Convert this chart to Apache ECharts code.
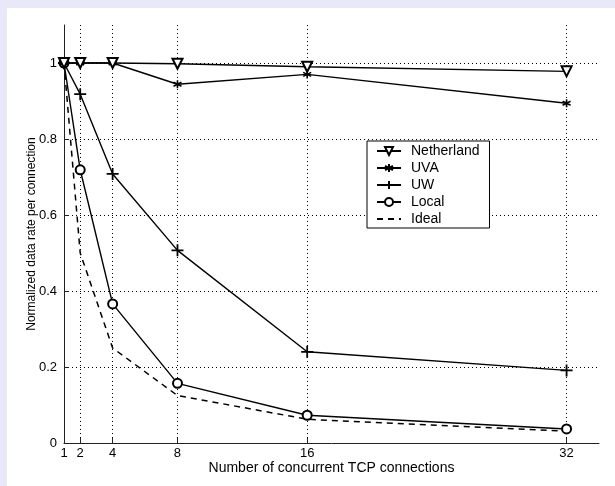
<!DOCTYPE html>
<html>
<head>
<meta charset="utf-8">
<script src="https://cdn.jsdelivr.net/npm/echarts@6/dist/echarts.min.js"></script>
<style>
  html, body { margin: 0; padding: 0; background: #e8e8f8; }
  #main { position: absolute; left: 7px; top: 8px; width: 608px; height: 478px; background: #fff; }
</style>
</head>
<body>
<div id="main"></div>
<script>
// values
var connections = [1, 2, 4, 8, 16, 32];
var netherland = [1, 1, 1, 0.998, 0.99, 0.978];
var uva = [1, 1, 1, 0.944, 0.97, 0.894];
var uw = [1, 0.918, 0.708, 0.507, 0.24, 0.191];
var local = [1, 0.719, 0.366, 0.157, 0.073, 0.037];
var ideal = [1, 0.5, 0.25, 0.125, 0.0625, 0.031];
var xTicks = [1, 2, 4, 8, 16, 32];
var yTicks = [0, 0.2, 0.4, 0.6, 0.8, 1];

function pairs(values) {
	return connections.map(function (c, i) { return [c, values[i]]; });
}

var FONT = 'Liberation Sans';
var plusPath = 'path://M0,5L10,5M5,0L5,10';
var starPath = 'path://M5,0L5,10M0.7,2.5L9.3,7.5M0.7,7.5L9.3,2.5';

var myChart = echarts.init(document.getElementById('main'));

function lineSeries(name, values, extra) {
	var s = {
		name: name,
		type: 'line',
		data: pairs(values),
		clip: false,
		lineStyle: { color: '#000', width: 1.4 },
		itemStyle: { color: '#000', borderColor: '#000', borderWidth: 1.3 },
		emphasis: { disabled: true }
	};
	for (var k in extra) s[k] = extra[k];
	return s;
}

var option = {
	animation: false,
	backgroundColor: '#fff',
	grid: {
		left: 57,
		right: 16,
		top: 17,
		bottom: 43,
		outerBoundsMode: 'none'
	},
	legend: {
		orient: 'vertical',
		left: 360,
		top: 133,
		backgroundColor: '#fff',
		borderColor: '#000',
		borderWidth: 1,
		borderRadius: 0,
		padding: [3, 10, 2, 9],
		itemGap: 3,
		itemWidth: 24,
		itemHeight: 10,
		textStyle: { fontFamily: FONT, fontSize: 14, lineHeight: 14, color: '#000', padding: [0, 0, 0, 5] },
		data: ['Netherland', 'UVA', 'UW', 'Local', 'Ideal']
	},
	xAxis: {
		type: 'value',
		min: 1,
		max: 34,
		name: 'Number of concurrent TCP connections',
		nameLocation: 'middle',
		nameGap: 18,
		nameMoveOverlap: false,
		nameTextStyle: { fontFamily: FONT, fontSize: 14, color: '#000' },
		axisLine: { lineStyle: { color: '#222', width: 1 } },
		axisTick: { inside: true, length: 5, customValues: xTicks, lineStyle: { color: '#222' } },
		axisLabel: { customValues: xTicks, margin: 4, fontFamily: FONT, fontSize: 13, color: '#000' },
		splitLine: { show: true, lineStyle: { color: '#000', type: [1, 3], width: 1 } }
	},
	yAxis: {
		type: 'value',
		min: 0,
		max: 1.1,
		name: 'Normalized data rate per connection',
		nameLocation: 'middle',
		nameGap: 26,
		nameMoveOverlap: false,
		nameTextStyle: { fontFamily: FONT, fontSize: 12, color: '#000' },
		axisLine: { show: true, lineStyle: { color: '#222', width: 1 } },
		axisTick: { show: true, inside: true, length: 5, customValues: yTicks, lineStyle: { color: '#222' } },
		axisLabel: { customValues: yTicks, margin: 7, fontFamily: FONT, fontSize: 13, color: '#000' },
		splitLine: { show: true, lineStyle: { color: '#000', type: [1, 3], width: 1 } }
	},
	series: [
		lineSeries('Ideal', ideal, {
			symbol: 'none',
			lineStyle: { color: '#000', width: 1.5, type: [6, 5] },
			itemStyle: { color: 'rgba(0,0,0,0)', borderWidth: 0 },
			z: 2
		}),
		lineSeries('Local', local, {
			symbol: 'emptyCircle',
			symbolSize: 9,
			z: 3
		}),
		lineSeries('UW', uw, {
			symbol: plusPath,
			symbolSize: 12,
			itemStyle: { color: '#000', borderColor: '#000', borderWidth: 1.8 },
			z: 4
		}),
		lineSeries('UVA', uva, {
			symbol: starPath,
			symbolSize: 8,
			itemStyle: { color: '#000', borderColor: '#000', borderWidth: 1.6 },
			z: 5
		}),
		lineSeries('Netherland', netherland, {
			symbol: 'emptyTriangle',
			symbolRotate: 180,
			symbolSize: 10,
			z: 6
		})
	]
};

myChart.setOption(option);
</script>
</body>
</html>
